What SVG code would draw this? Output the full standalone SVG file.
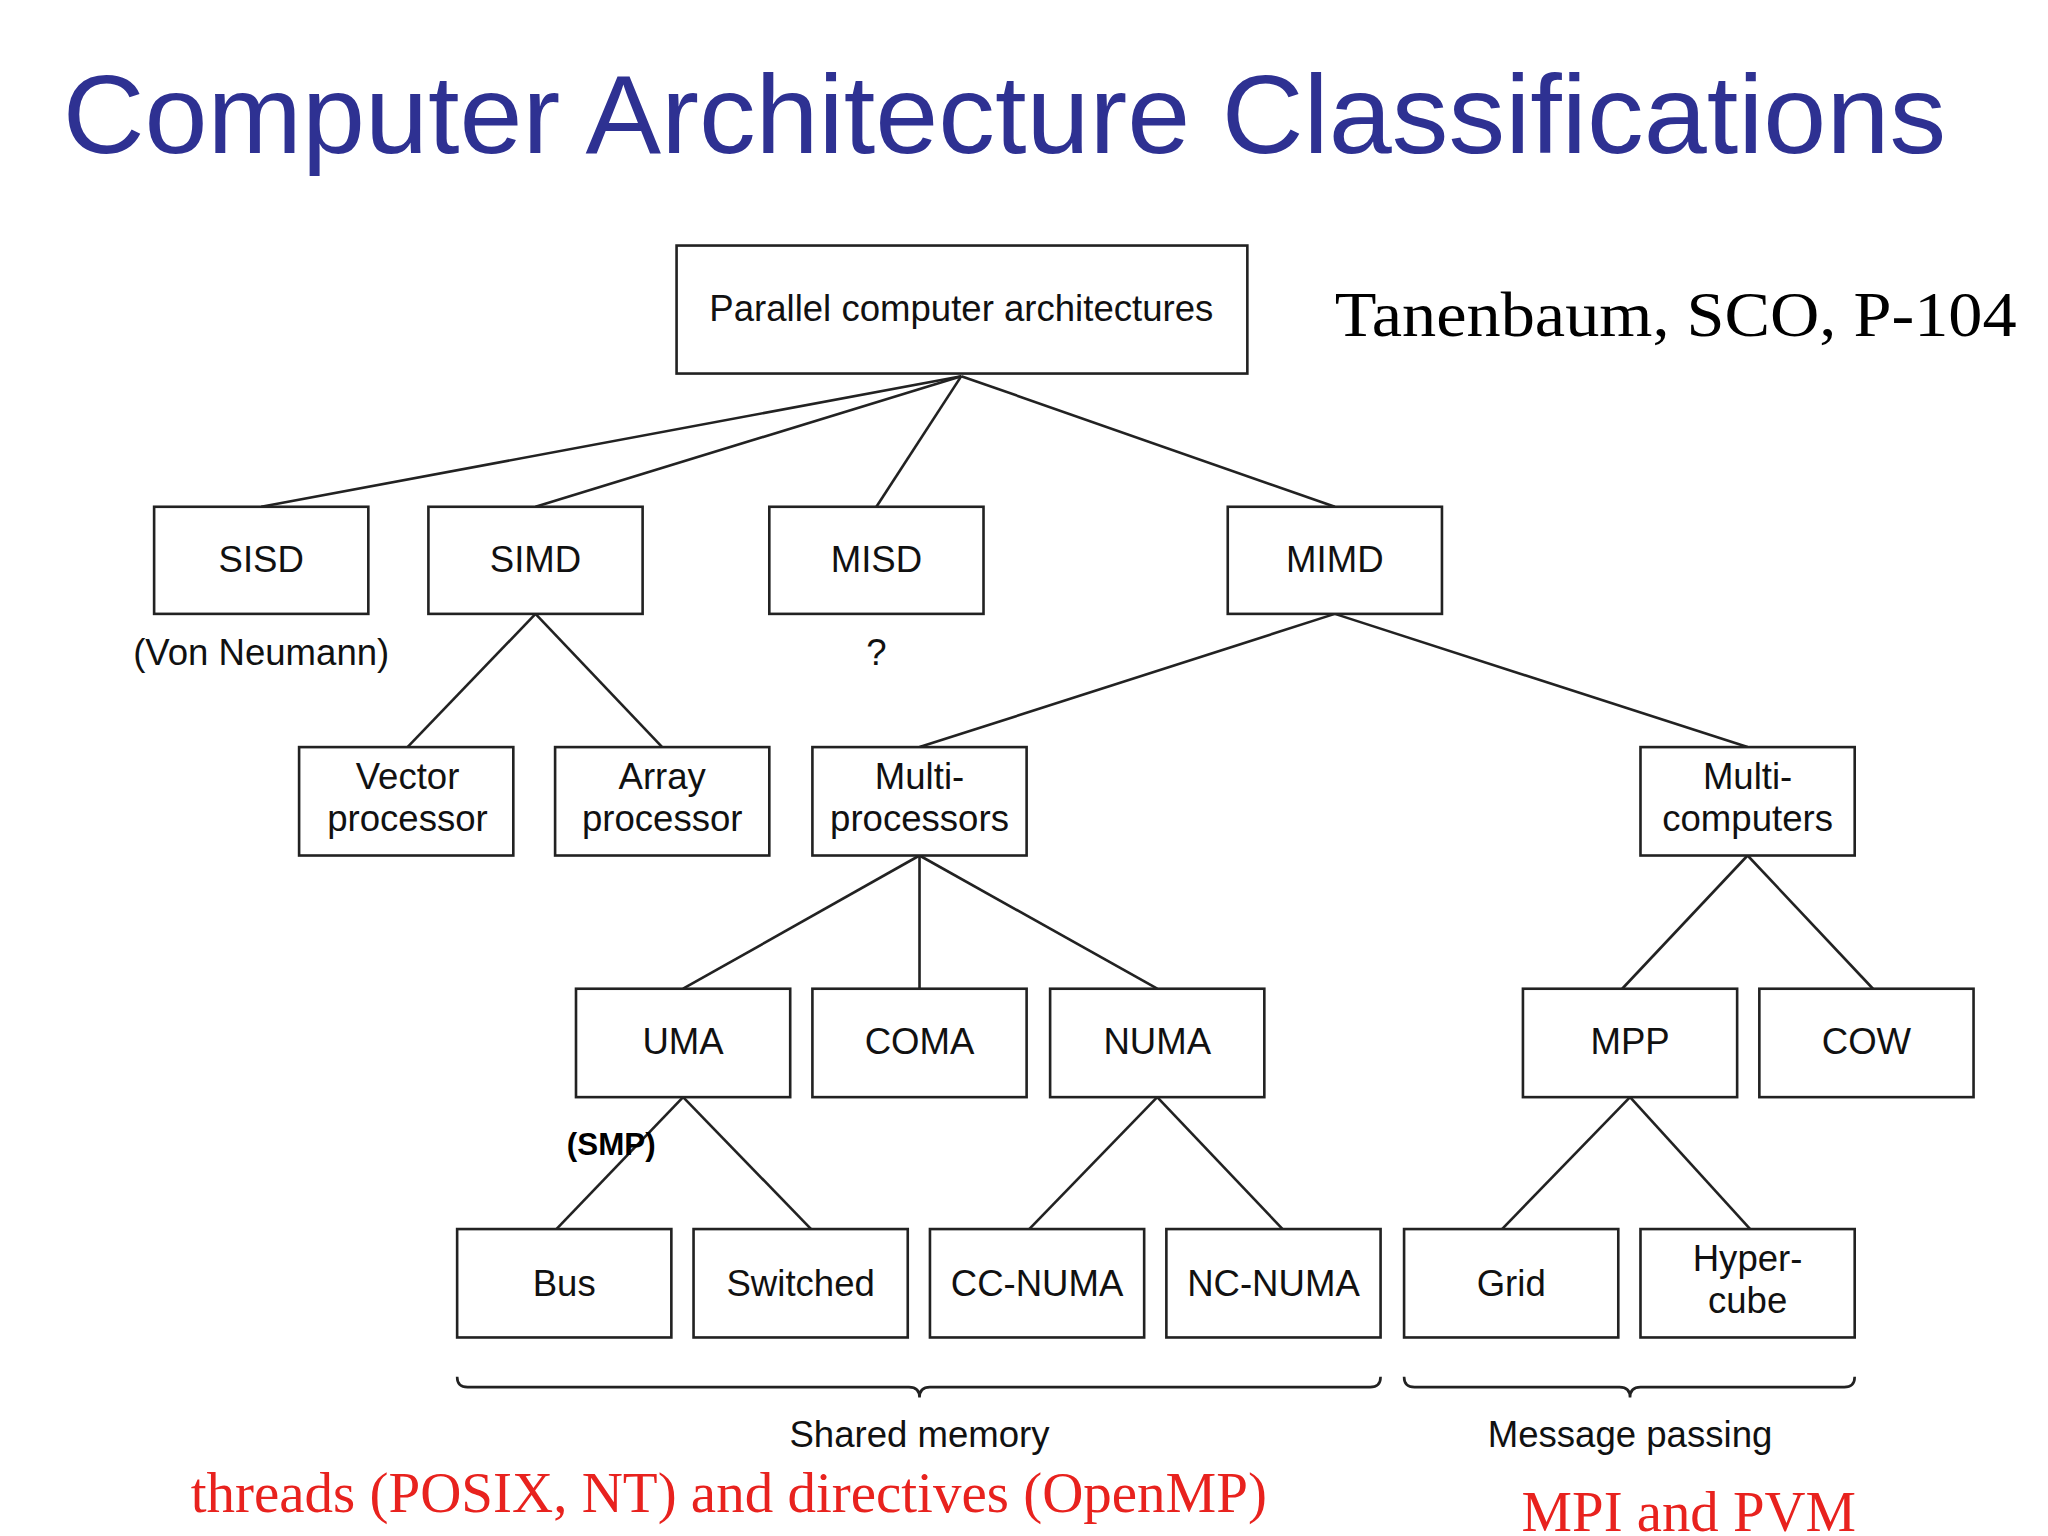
<svg xmlns="http://www.w3.org/2000/svg" width="2048" height="1536" viewBox="0 0 2048 1536">
<style>
.b{fill:#fff;stroke:#222;stroke-width:2}
.t{font-family:"Liberation Sans",Arial,sans-serif;font-size:28px;fill:#111;text-anchor:middle}
.c line,.c path{stroke:#222;stroke-width:2;fill:none}
.r{font-family:"Liberation Serif","Times New Roman",serif;font-size:43px;fill:#e8221e}
</style>
<rect width="2048" height="1536" fill="#fff"/>
<g transform="scale(1.306122)">
<text x="48" y="117" font-family="Liberation Sans,Arial,sans-serif" font-size="85" fill="#2e3192" textLength="1442" lengthAdjust="spacingAndGlyphs">Computer Architecture Classifications</text>
<text x="1022" y="257" font-family="Liberation Serif,serif" font-size="49" fill="#000" textLength="522" lengthAdjust="spacingAndGlyphs">Tanenbaum, SCO, P-104</text>
<g class="c">
<line x1="736" y1="288" x2="200" y2="388"/><line x1="736" y1="288" x2="410" y2="388"/><line x1="736" y1="288" x2="671" y2="388"/><line x1="736" y1="288" x2="1022" y2="388"/>
<line x1="410" y1="470" x2="312" y2="572"/><line x1="410" y1="470" x2="507" y2="572"/>
<line x1="1022" y1="470" x2="704" y2="572"/><line x1="1022" y1="470" x2="1338" y2="572"/>
<line x1="704" y1="655" x2="523" y2="757"/><line x1="704" y1="655" x2="704" y2="757"/><line x1="704" y1="655" x2="886" y2="757"/>
<line x1="1338" y1="655" x2="1242" y2="757"/><line x1="1338" y1="655" x2="1434" y2="757"/>
<line x1="523" y1="840" x2="426" y2="941"/><line x1="523" y1="840" x2="621" y2="941"/>
<line x1="886" y1="840" x2="788" y2="941"/><line x1="886" y1="840" x2="982" y2="941"/>
<line x1="1248" y1="840" x2="1150" y2="941"/><line x1="1248" y1="840" x2="1340" y2="941"/>
<path d="M350 1054 Q350 1062 358 1062 L696 1062 Q704 1062 704 1070 Q704 1062 712 1062 L1049 1062 Q1057 1062 1057 1054"/>
<path d="M1075 1054 Q1075 1062 1083 1062 L1240 1062 Q1248 1062 1248 1070 Q1248 1062 1256 1062 L1412 1062 Q1420 1062 1420 1054"/>
</g>
<g id="parallel"><rect class="b" x="518" y="188" width="437" height="98"/><text class="t" x="736" y="246">Parallel computer architectures</text></g>
<g id="sisd"><rect class="b" x="118" y="388" width="164" height="82"/><text class="t" x="200" y="438">SISD</text></g>
<g id="simd"><rect class="b" x="328" y="388" width="164" height="82"/><text class="t" x="410" y="438">SIMD</text></g>
<g id="misd"><rect class="b" x="589" y="388" width="164" height="82"/><text class="t" x="671" y="438">MISD</text></g>
<g id="mimd"><rect class="b" x="940" y="388" width="164" height="82"/><text class="t" x="1022" y="438">MIMD</text></g>
<text class="t" x="200" y="509">(Von Neumann)</text>
<text class="t" x="671" y="509">?</text>
<g id="vector"><rect class="b" x="229" y="572" width="164" height="83"/><text class="t" x="312" y="604">Vector</text><text class="t" x="312" y="636">processor</text></g>
<g id="array"><rect class="b" x="425" y="572" width="164" height="83"/><text class="t" x="507" y="604">Array</text><text class="t" x="507" y="636">processor</text></g>
<g id="multiproc"><rect class="b" x="622" y="572" width="164" height="83"/><text class="t" x="704" y="604">Multi-</text><text class="t" x="704" y="636">processors</text></g>
<g id="multicomp"><rect class="b" x="1256" y="572" width="164" height="83"/><text class="t" x="1338" y="604">Multi-</text><text class="t" x="1338" y="636">computers</text></g>
<g id="uma"><rect class="b" x="441" y="757" width="164" height="83"/><text class="t" x="523" y="807">UMA</text></g>
<g id="coma"><rect class="b" x="622" y="757" width="164" height="83"/><text class="t" x="704" y="807">COMA</text></g>
<g id="numa"><rect class="b" x="804" y="757" width="164" height="83"/><text class="t" x="886" y="807">NUMA</text></g>
<g id="mpp"><rect class="b" x="1166" y="757" width="164" height="83"/><text class="t" x="1248" y="807">MPP</text></g>
<g id="cow"><rect class="b" x="1347" y="757" width="164" height="83"/><text class="t" x="1429" y="807">COW</text></g>
<text x="434" y="884" font-family="Liberation Sans,Arial,sans-serif" font-size="24" font-weight="bold" fill="#000">(SMP)</text>
<g id="bus"><rect class="b" x="350" y="941" width="164" height="83"/><text class="t" x="432" y="992">Bus</text></g>
<g id="switched"><rect class="b" x="531" y="941" width="164" height="83"/><text class="t" x="613" y="992">Switched</text></g>
<g id="ccnuma"><rect class="b" x="712" y="941" width="164" height="83"/><text class="t" x="794" y="992">CC-NUMA</text></g>
<g id="ncnuma"><rect class="b" x="893" y="941" width="164" height="83"/><text class="t" x="975" y="992">NC-NUMA</text></g>
<g id="grid"><rect class="b" x="1075" y="941" width="164" height="83"/><text class="t" x="1157" y="992">Grid</text></g>
<g id="hypercube"><rect class="b" x="1256" y="941" width="164" height="83"/><text class="t" x="1338" y="973">Hyper-</text><text class="t" x="1338" y="1005">cube</text></g>
<text class="t" x="704" y="1108">Shared memory</text>
<text class="t" x="1248" y="1108">Message passing</text>
<text class="r" x="146" y="1158" textLength="824" lengthAdjust="spacingAndGlyphs">threads (POSIX, NT) and directives (OpenMP)</text>
<text class="r" x="1165" y="1172" textLength="256" lengthAdjust="spacingAndGlyphs">MPI and PVM</text>
</g>
</svg>
